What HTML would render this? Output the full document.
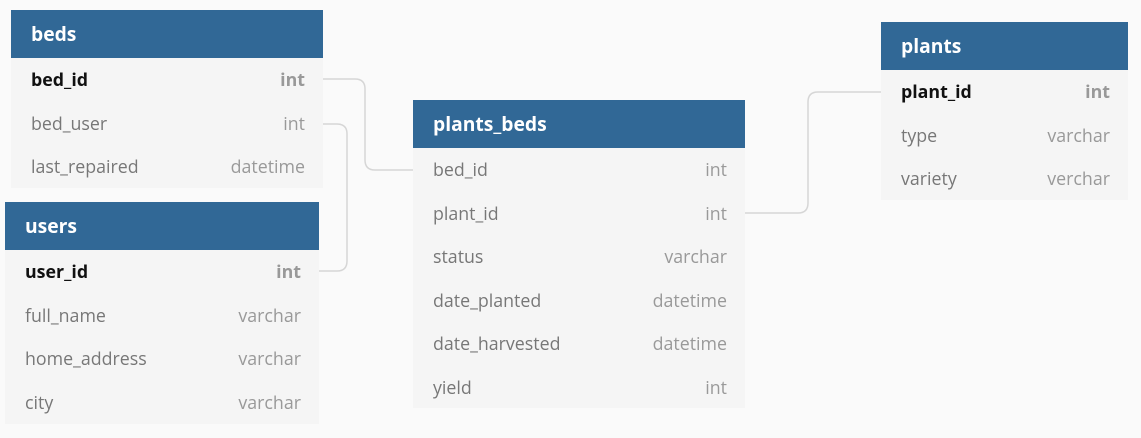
<!DOCTYPE html>
<html><head><meta charset="utf-8"><style>
body{margin:0;width:1141px;height:438px;background:#fafafa;position:relative;overflow:hidden;font-family:"Open Sans","DejaVu Sans","Liberation Sans",sans-serif;}
.t{position:absolute;background:#f5f5f5;}
.h{height:48px;background:#316896;color:#fff;font-weight:bold;font-size:19.3px;line-height:48px;padding-left:20px;}
.r{height:43.5px;line-height:44.5px;position:relative;font-size:17.8px;color:#777;padding-left:20px;}
.r span{position:absolute;right:18px;top:0;color:#999;}
.r.k{color:#111;font-weight:bold;}
.r.k span{color:#999;font-weight:bold;}
svg{position:absolute;left:0;top:0;}
</style></head><body>
<svg width="1141" height="438"><g fill="none" stroke="#d6d6d6" stroke-width="1.5">
<path d="M323 79 H355 Q365 79 365 89 V160 Q365 170 375 170 H413"/>
<path d="M323 124 H337 Q347 124 347 134 V261 Q347 271 337 271 H319"/>
<path d="M745 213 H798 Q808 213 808 203 V102 Q808 92 818 92 H881"/>
</g></svg>
<div class="t" style="left:11px;top:10px;width:312px;height:178px">
<div class="h">beds</div>
<div class="r k">bed_id<span>int</span></div>
<div class="r">bed_user<span>int</span></div>
<div class="r">last_repaired<span>datetime</span></div>
</div>
<div class="t" style="left:5px;top:202px;width:314px;height:222px">
<div class="h">users</div>
<div class="r k">user_id<span>int</span></div>
<div class="r">full_name<span>varchar</span></div>
<div class="r">home_address<span>varchar</span></div>
<div class="r">city<span>varchar</span></div>
</div>
<div class="t" style="left:413px;top:100px;width:332px;height:308px">
<div class="h">plants_beds</div>
<div class="r">bed_id<span>int</span></div>
<div class="r">plant_id<span>int</span></div>
<div class="r">status<span>varchar</span></div>
<div class="r">date_planted<span>datetime</span></div>
<div class="r">date_harvested<span>datetime</span></div>
<div class="r">yield<span>int</span></div>
</div>
<div class="t" style="left:881px;top:22px;width:247px;height:178px">
<div class="h">plants</div>
<div class="r k">plant_id<span>int</span></div>
<div class="r">type<span>varchar</span></div>
<div class="r">variety<span>verchar</span></div>
</div>
</body></html>
